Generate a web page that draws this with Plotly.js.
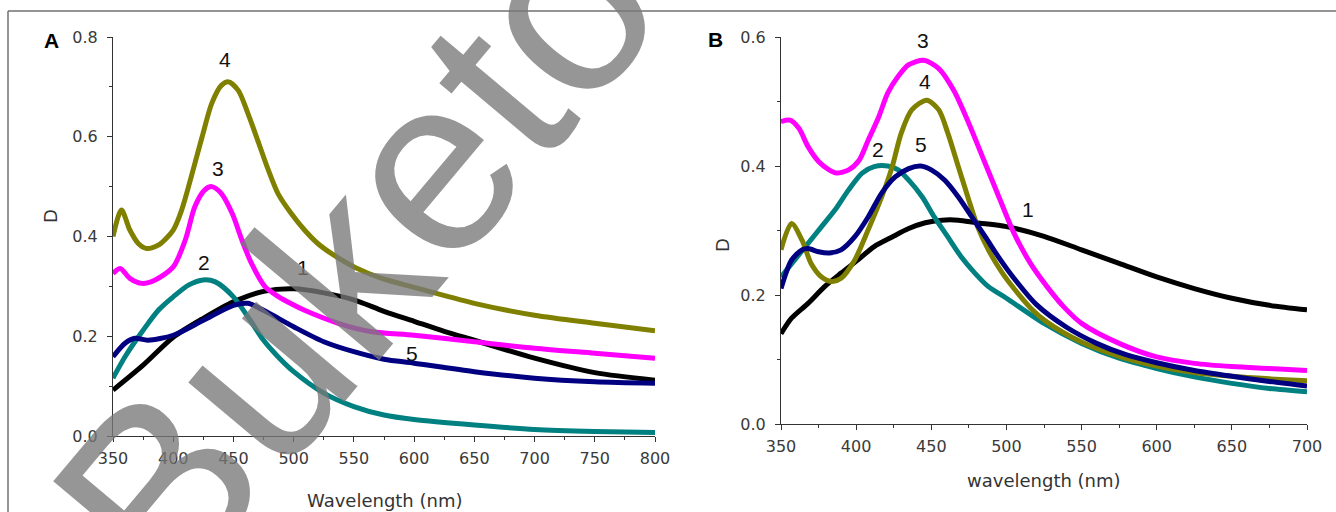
<!DOCTYPE html>
<html><head><meta charset="utf-8">
<script src="https://cdn.plot.ly/plotly-3.0.1.min.js"></script>
<style>html,body{margin:0;padding:0;background:#fff;}#chart{width:1336px;height:512px;}</style>
</head><body><div id="chart"></div>
<script>
// ---------- Panel A data ----------
const a1Wl = [350,375,400,425,450,475,500,525,550,575,600,625,650,700,750,800];
const a1D  = [0.092,0.142,0.198,0.236,0.269,0.29,0.295,0.287,0.273,0.25,0.23,0.21,0.192,0.156,0.127,0.112];
const a2Wl = [350,360,375,388,400,413,425,435,450,462,475,487,500,525,550,575,600,650,700,750,800];
const a2D  = [0.116,0.159,0.212,0.253,0.279,0.303,0.313,0.309,0.279,0.239,0.192,0.159,0.129,0.086,0.059,0.042,0.033,0.022,0.013,0.009,0.007];
const a3Wl = [350,356,364,374,385,400,410,418,426,432,440,449,457,465,476,487,498,509,537,565,600,650,700,750,800];
const a3D  = [0.326,0.336,0.316,0.306,0.313,0.339,0.393,0.46,0.493,0.50,0.486,0.446,0.393,0.346,0.30,0.28,0.265,0.252,0.226,0.209,0.202,0.189,0.176,0.166,0.156];
const a4Wl = [350,357,364,371,378,388,400,407,415,424,432,440,446,454,462,471,479,487,498,509,520,535,551,572,600,650,700,750,800];
const a4D  = [0.40,0.453,0.413,0.386,0.376,0.383,0.413,0.453,0.52,0.60,0.667,0.703,0.71,0.693,0.647,0.587,0.533,0.486,0.446,0.413,0.386,0.36,0.338,0.317,0.298,0.266,0.242,0.226,0.211];
const a5Wl = [350,360,368,379,400,425,450,462,475,500,525,550,575,600,650,700,750,800];
const a5D  = [0.159,0.186,0.196,0.192,0.202,0.232,0.262,0.266,0.252,0.219,0.189,0.169,0.154,0.146,0.129,0.116,0.109,0.106];

// ---------- Panel B data ----------
const b1Wl = [350,357,368,379,390,401,412,424,435,446,457,468,480,500,525,550,575,600,625,650,675,700];
const b1D  = [0.14,0.164,0.187,0.213,0.234,0.254,0.275,0.29,0.303,0.312,0.316,0.316,0.312,0.306,0.291,0.27,0.249,0.228,0.21,0.195,0.184,0.177];
const b2Wl = [350,359,368,377,386,395,404,412,421,428,435,444,452,461,470,479,488,500,525,550,575,600,625,650,675,700];
const b2D  = [0.228,0.254,0.28,0.306,0.332,0.363,0.389,0.399,0.40,0.394,0.378,0.352,0.321,0.29,0.259,0.234,0.213,0.195,0.156,0.125,0.102,0.086,0.073,0.063,0.055,0.05];
const b3Wl = [350,356,362,368,375,382,387,395,402,408,415,421,428,435,445,455,465,475,485,495,505,516,527,538,550,575,600,625,650,675,700];
const b3D  = [0.469,0.471,0.458,0.43,0.407,0.394,0.389,0.394,0.409,0.44,0.476,0.513,0.539,0.557,0.564,0.551,0.517,0.466,0.409,0.352,0.296,0.249,0.213,0.182,0.156,0.125,0.104,0.094,0.089,0.086,0.083];
const b4Wl = [350,357,364,370,377,384,390,399,408,417,424,430,437,447,455,461,468,475,481,488,497,505,516,527,550,575,600,625,650,675,700];
const b4D  = [0.27,0.311,0.285,0.249,0.228,0.221,0.226,0.254,0.301,0.352,0.399,0.451,0.487,0.502,0.487,0.451,0.399,0.347,0.305,0.27,0.235,0.21,0.18,0.158,0.127,0.105,0.09,0.08,0.074,0.07,0.067];
const b5Wl = [350,357,364,368,375,382,390,399,408,417,426,435,443,450,459,468,477,486,495,505,520,540,560,580,600,625,650,675,700];
const b5D  = [0.21,0.254,0.27,0.272,0.267,0.265,0.27,0.29,0.321,0.358,0.383,0.396,0.40,0.394,0.378,0.352,0.321,0.29,0.258,0.226,0.185,0.15,0.125,0.107,0.095,0.083,0.074,0.066,0.059];

// ---------- ticks & labels ----------
const tickA_x = [350,400,450,500,550,600,650,700,750,800];
const tickA_y = [0.0,0.2,0.4,0.6,0.8];
const tickB_x = [350,400,450,500,550,600,650,700];
const tickB_y = [0.0,0.2,0.4,0.6];
const curveNames = ['1','2','3','4','5'];
// label anchor positions (data coords)
const labelA_x = [508,425.5,437,443,598];
const labelA_y = [0.337,0.347,0.537,0.754,0.166];
const labelB_x = [514.5,414.7,444.3,445.8,443];
const labelB_y = [0.332,0.425,0.595,0.531,0.434];

const colors = ['#000000','#008080','#ff00ff','#808000','#000080'];

function tr(x, y, i, xa, ya){
  return {x:x, y:y, xaxis:xa, yaxis:ya, type:'scatter', mode:'lines',
    line:{color:colors[i], width:5, shape:'spline', smoothing:0.8},
    hoverinfo:'skip', showlegend:false};
}
const data = [
  tr(a1Wl,a1D,0,'x','y'), tr(a2Wl,a2D,1,'x','y'), tr(a3Wl,a3D,2,'x','y'), tr(a4Wl,a4D,3,'x','y'), tr(a5Wl,a5D,4,'x','y'),
  tr(b1Wl,b1D,0,'x2','y2'), tr(b2Wl,b2D,1,'x2','y2'), tr(b3Wl,b3D,2,'x2','y2'), tr(b4Wl,b4D,3,'x2','y2'), tr(b5Wl,b5D,4,'x2','y2')
];

const W = 1336, H = 512;
const px = v => v / W, py = v => 1 - v / H;
const tickFont = {family:'DejaVu Sans, Liberation Sans, Arial', size:16, color:'#3a3a3a'};
const axCommon = {showgrid:false, zeroline:false, showline:true, linecolor:'#333', linewidth:1,
  ticks:'outside', ticklen:5, tickwidth:1, tickcolor:'#333', tickfont:tickFont, ticklabelstandoff:3, fixedrange:true};

const layout = {
  width:W, height:H, margin:{l:0,r:0,t:0,b:0}, paper_bgcolor:'#fff', plot_bgcolor:'rgba(0,0,0,0)',
  showlegend:false,
  xaxis:Object.assign({}, axCommon, {domain:[px(113),px(655)], anchor:'y', range:[350,800],
    tickvals:tickA_x, minor:{dtick:25, tick0:350, ticks:'outside', ticklen:3, tickcolor:'#333'}}),
  yaxis:Object.assign({}, axCommon, {domain:[py(436),py(37)], anchor:'x', range:[0,0.8],
    tickvals:tickA_y, tickformat:'.1f', ticklabelstandoff:6, minor:{dtick:0.1, tick0:0, ticks:'outside', ticklen:3, tickcolor:'#333'}}),
  xaxis2:Object.assign({}, axCommon, {domain:[px(781),px(1307)], anchor:'y2', range:[350,700],
    tickvals:tickB_x, minor:{dtick:25, tick0:350, ticks:'outside', ticklen:3, tickcolor:'#333'}}),
  yaxis2:Object.assign({}, axCommon, {domain:[py(424),py(37)], anchor:'x2', range:[0,0.6],
    tickvals:tickB_y, tickformat:'.1f', ticklabelstandoff:6, minor:{dtick:0.1, tick0:0, ticks:'outside', ticklen:3, tickcolor:'#333'}}),
  shapes:[
    {type:'line', xref:'paper', yref:'paper', x0:px(8), x1:1, y0:py(11), y1:py(11), line:{color:'#707070', width:1.5}},
    {type:'line', xref:'paper', yref:'paper', x0:px(8), x1:px(8), y0:py(11), y1:0, line:{color:'#707070', width:1.5}}
  ],
  annotations:[]
};
const ann = layout.annotations;
const lblFont = {family:'Liberation Sans, Arial', size:21, color:'#111'};
curveNames.forEach((n,i)=>{
  ann.push({text:n, x:labelA_x[i], y:labelA_y[i], xref:'x', yref:'y', xanchor:'center', yanchor:'middle', showarrow:false, font:lblFont});
  ann.push({text:n, x:labelB_x[i], y:labelB_y[i], xref:'x2', yref:'y2', xanchor:'center', yanchor:'middle', showarrow:false, font:lblFont});
});
const titleFont = {family:'DejaVu Sans, Liberation Sans, Arial', size:18, color:'#333'};
function paperText(t, x, y, font, angle){
  ann.push({text:t, x:px(x), y:py(y), xref:'paper', yref:'paper', xanchor:'center', yanchor:'middle',
    showarrow:false, textangle:angle||0, font:font});
}
paperText('Wavelength (nm)', 385, 500, titleFont);
paperText('wavelength (nm)', 1044, 480, titleFont);
paperText('D', 50, 216, titleFont, -90);
paperText('D', 722, 245, titleFont, -90);
paperText('<b>A</b>', 51, 40, {family:'Liberation Sans, Arial', size:21, color:'#000'});
paperText('<b>B</b>', 716, 39, {family:'Liberation Sans, Arial', size:21, color:'#000'});
// watermark
paperText('Buketov', 395, 206, {family:'Liberation Sans, Arial', size:250, color:'rgba(120,120,120,0.78)'}, -50);

Plotly.newPlot('chart', data, layout, {staticPlot:true, displayModeBar:false});
</script></body></html>
